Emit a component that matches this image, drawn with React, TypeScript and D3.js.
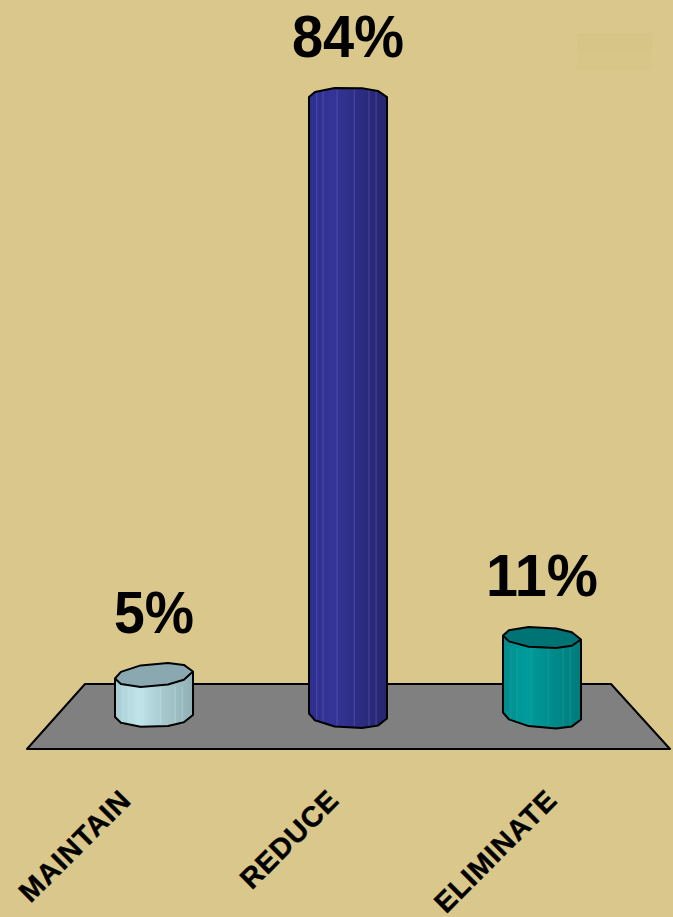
import React from "react";
import * as d3 from "d3";

const categories = ["MAINTAIN", "REDUCE", "ELIMINATE"];
const values = [5, 84, 11];
const valueLabels = ["5%", "84%", "11%"];
const sideStops = [
  ["#a6ccd2", "#bfe4e9", "#8fb0b5"],
  ["#2e2e8e", "#343499", "#25256f"],
  ["#008c8c", "#009c9c", "#007b7b"],
];
const capColors = ["#8aa8b0", "#343499", "#007375"];
const stripeColors = ["#d5eef1", "#7a7ac4", "#30adad"];
const topTilts = [-3.5, 0, 2];
const topDepths = [11.5, 9.5, 10.5];
const baseTilts = [-1, 2.5, 3.5];
const baseDepths = [11, 12, 12];
const showCapFront = [true, false, true];
const facetAngles = [180, 148, 110, 69, 40, 0];
const stripeOffsets = [0.1, 0.18, 0.36, 0.58, 0.77, 0.86];
const labelShifts = [-36, -22, 2];

const W = 673;
const H = 917;

const x = d3.scalePoint<string>().domain(categories).range([154, 542]);
const heightScale = d3.scaleLinear().domain([0, 5, 11, 84]).range([0, 41, 78.5, 619]);
const baseY = 716;
const radius = 39;

type Pt = [number, number];
const line = d3.line<Pt>().x((d) => d[0]).y((d) => d[1]);

function rim(cx: number, cy: number, depth: number, tilt: number, side: 1 | -1): Pt[] {
  return facetAngles.map((a) => {
    const t = (a * Math.PI) / 180;
    return [cx + radius * Math.cos(t), cy + side * depth * Math.sin(t) + tilt * Math.cos(t)] as Pt;
  });
}

export default function App() {
  return (
    <svg
      width={W}
      height={H}
      viewBox={`0 0 ${W} ${H}`}
      style={{ position: "absolute", left: 0, top: 0, background: "#d9c78b" }}
      fontFamily="'Liberation Sans', Arial, sans-serif"
    >
      <defs>
        {sideStops.map((s, i) => (
          <linearGradient key={i} id={`side${i}`} x1="0" x2="1" y1="0" y2="0">
            <stop offset="0" stopColor={s[0]} />
            <stop offset="0.3" stopColor={s[1]} />
            <stop offset="0.65" stopColor={d3.interpolateRgb(s[1], s[2])(0.55)} />
            <stop offset="1" stopColor={s[2]} />
          </linearGradient>
        ))}
      </defs>
      <rect x={577} y={33} width={75} height={19} fill="#d7c487" />
      <rect x={577} y={52} width={75} height={18} fill="#d8c689" />
      <polygon points="85,684 611,684 670,749 27,749" fill="#808080" stroke="#000" strokeWidth={2} strokeLinejoin="round" />
      {categories.map((c, i) => {
        const cx = x(c) as number;
        const topY = baseY - heightScale(values[i]);
        const front = rim(cx, baseY, baseDepths[i], baseTilts[i], 1);
        const back = rim(cx, topY, topDepths[i], topTilts[i], -1);
        const capFront = rim(cx, topY, topDepths[i], topTilts[i], 1);
        const body = [...back, ...front.slice().reverse()];
        const cap = [...back, ...capFront.slice().reverse()];
        return (
          <g key={c}>
            <path d={(line(body) as string) + "Z"} fill={`url(#side${i})`} />
            {stripeOffsets.map((o, k) => (
              <line
                key={k}
                x1={cx - radius + o * 2 * radius}
                x2={cx - radius + o * 2 * radius}
                y1={topY + (showCapFront[i] ? topDepths[i] : -7)}
                y2={baseY + baseDepths[i] - 2}
                stroke={stripeColors[i]}
                strokeWidth={1}
                opacity={0.4}
              />
            ))}
            {showCapFront[i] && <path d={(line(cap) as string) + "Z"} fill={capColors[i]} stroke="none" />}
            <path d={(line(body) as string) + "Z"} fill="none" stroke="#000" strokeWidth={2} strokeLinejoin="round" />
            {showCapFront[i] && (
              <path d={line(capFront) as string} fill="none" stroke="#000" strokeWidth={2} strokeLinejoin="round" />
            )}
            <text
              x={cx}
              y={topY - topDepths[i] - 31}
              textAnchor="middle"
              fontSize={60}
              fontWeight="bold"
              fill="#000"
              textLength={valueLabels[i].length === 3 ? 112 : 80}
              lengthAdjust="spacingAndGlyphs"
            >
              {valueLabels[i]}
            </text>
            <text
              transform={`translate(${cx + labelShifts[i]},${787}) rotate(-45)`}
              textAnchor="end"
              fontSize={28.5}
              letterSpacing={0.9}
              fontWeight="bold"
              fill="#000"
              stroke="#000"
              strokeWidth={0.4}
              dominantBaseline="hanging"
            >
              {c}
            </text>
          </g>
        );
      })}
    </svg>
  );
}
